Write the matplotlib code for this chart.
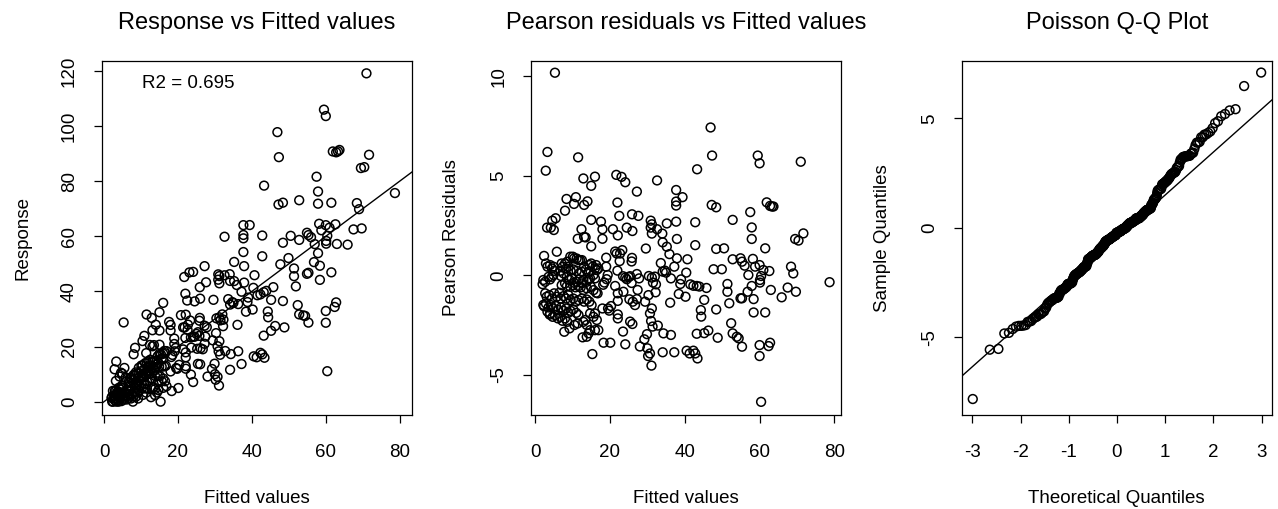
import numpy as np
import matplotlib
matplotlib.use("Agg")
import matplotlib.pyplot as plt
from statistics import NormalDist

plt.rcParams['font.family'] = ['Liberation Sans', 'DejaVu Sans']
plt.rcParams['axes.unicode_minus'] = False

# fitted values and pearson residuals
fitted = [
    5.3, 3.3, 2.85, 11.5, 12.9, 15.0, 16.0, 10.9, 8.4, 10.4,
    14.0, 13.1, 8.0, 5.5, 4.6, 3.2, 4.2, 5.0, 12.4, 11.4,
    13.1, 13.5, 15.0, 15.0, 17.6, 18.0, 18.0,
    19.0, 19.0, 19.4, 18.5, 18.2, 19.1, 18.0, 19.8, 19.5, 20.3,
    18.3, 20.1, 15.3, 20.8, 21.7, 23.1, 24.1, 22.0, 22.5, 22.1,
    24.5, 26.0, 25.9, 27.6, 27.2, 32.6, 29.6, 21.4, 21.8, 22.7,
    23.3, 22.6, 25.9, 25.8, 22.0, 21.4, 23.5, 24.1, 24.5, 25.0,
    25.4, 25.8, 27.2, 27.8, 27.4, 22.1, 22.1, 25.2, 26.1, 26.7,
    27.2, 22.1, 22.1, 25.4, 26.0, 23.5, 24.1, 29.2, 28.0, 30.0,
    30.2, 31.1, 30.7, 29.9, 30.3, 30.7, 31.2, 31.0, 31.4, 32.8,
    31.2, 30.4, 30.9, 31.2, 30.9, 31.2, 32.6, 31.5, 32.0, 32.2,
    33.6, 34.1, 34.7, 35.0, 34.0, 35.2, 34.1, 35.2, 35.9, 36.3,
    36.1, 34.3, 36.3, 34.1, 37.2, 37.7, 37.7, 37.7, 39.4, 37.7,
    37.9, 37.2, 37.9, 38.8, 39.0, 38.4, 40.4, 40.7, 40.2, 40.5,
    41.3, 42.3, 42.8, 43.4, 43.2, 44.3, 44.4, 41.5, 42.3, 43.2,
    43.9, 45.8, 45.2, 45.2, 46.3, 48.8, 48.4, 42.8, 42.8, 43.3,
    46.9, 47.3, 47.2, 48.4, 48.4, 50.5, 47.7, 49.9, 51.4, 51.4,
    51.9, 52.8, 52.8, 52.4, 52.8, 53.9, 54.4, 55.3, 54.9, 55.3,
    54.9, 55.3, 56.0, 57.0, 56.8, 57.9, 58.4, 58.4, 57.5, 57.9,
    57.9, 58.2, 58.8, 59.5, 60.0, 60.0, 60.4, 60.1, 60.1, 61.0,
    61.5, 61.5, 60.0, 60.0, 60.4, 61.9, 62.8, 63.3, 63.7, 62.6,
    63.0, 62.4, 62.8, 65.9, 67.5, 68.4, 69.0, 69.7, 69.5, 70.4,
    71.7, 71.0, 78.7, 23.6, 29.4, 32.3,
    2.4, 5.8, 2.9, 3.3, 4.0, 4.5, 4.9, 5.1, 3.6, 4.0,
    2.7, 2.2, 2.0, 4.5, 4.9, 7.1, 8.0, 8.6, 9.4, 10.1,
    10.4, 11.1, 11.6, 12.0, 12.5, 7.4, 8.3, 8.9, 9.5, 10.2,
    11.1, 11.8, 12.5, 13.1, 13.6, 14.3, 14.5, 15.0, 15.4, 16.0,
    16.5, 16.9, 16.3, 6.7, 7.6, 6.9, 8.5, 9.2, 9.8, 10.4,
    11.1, 11.8, 12.5, 12.9, 13.8, 14.3, 14.7, 15.6, 16.0, 7.1,
    8.0, 8.5, 9.4, 10.1, 10.8, 11.6, 12.2, 12.9, 13.8, 14.9,
    15.6, 16.3, 16.7, 2.7, 3.1, 3.8, 4.5, 5.1, 5.8, 6.5,
    6.9, 7.6, 8.3, 8.9, 9.5, 10.2, 10.9, 11.6, 12.5, 13.1,
    13.8, 14.5, 15.1, 2.2, 2.4, 2.9, 3.6, 4.2, 4.9, 5.6,
    6.2, 6.9, 7.6, 8.3, 8.9, 9.5, 10.2, 11.0, 11.6, 3.3,
    3.9, 4.0, 4.7, 5.3, 6.1, 6.7, 7.3, 8.0, 8.6, 7.8,
    9.2, 10.5, 11.4, 12.9, 13.4, 13.8, 14.7, 14.3, 12.7, 13.8,
    14.7, 16.0, 16.0, 15.6, 16.5, 16.9,
]
pearson = [
    10.18, 6.2, 5.26, 5.93, 4.87, 4.5, 4.96, 3.93, 3.84, 3.59,
    3.72, 3.54, 3.25, 2.87, 2.75, 2.4, 2.4, 2.28, 2.32, 1.84,
    1.93, 1.91, 1.46, 2.79, 2.7, 2.32, 1.84,
    0.89, 0.44, 0.02, -0.36, -0.47, -0.19, -1.66, -1.77, -1.66, -1.54,
    -3.38, -3.38, -3.95, 2.32, 5.05, 4.95, 4.68, 3.66, 2.99, 2.01,
    2.4, 2.23, 3.07, 2.99, 4.21, 4.77, 1.35, 1.2, 1.1, 1.1,
    1.27, 0.72, 0.88, 0.7, 0.24, -0.53, -0.04, -0.11, -0.19, -0.08,
    -0.04, -0.38, 0.07, -0.15, -0.73, -0.9, -1.28, -1.2, -1.32, -1.49,
    -1.19, -1.96, -2.16, -2.32, -2.44, -2.82, -3.46, -3.21, -3.57, -3.66,
    -4.05, -4.53, -3.92, -2.95, -0.99, -1.91, -1.66, -2.29, -2.57, -2.52,
    -0.11, -0.03, 2.75, 2.57, 2.4, 2.1, 2.32, -0.36, -0.06, -0.85,
    0.62, 0.19, 0.24, 0.14, 2.1, 2.61, 1.66, 1.44, 1.07, -0.15,
    -1.37, -2.91, -2.99, -3.86, -3.86, 4.29, 3.71, 3.51, 3.93, 2.7,
    1.83, 0.44, 0.86, -0.43, -0.2, -0.93, 0.14, 0.81, -1.07, -3.78,
    -3.92, -3.78, -3.92, -4.17, -2.93, -1.74, -2.07, -0.45, -0.52, -0.53,
    -0.56, -0.63, -1.23, -2.9, -2.77, -3.13, -1.71, 2.67, 1.52, 5.33,
    7.43, 6.02, 3.54, 3.42, 1.33, 1.36, 0.31, 0.31, -0.43, -0.82,
    -1.4, 2.79, 0.81, -2.4, -2.91, -3.08, -3.16, -3.58, -1.15, -1.15,
    0.86, 0.69, 0.49, 0.02, -0.82, -0.53, -1.19, -1.86, 3.18, 2.41,
    1.83, 0.83, 0.44, 6.02, 5.63, 0.52, -0.03, -0.23, -0.36, 0.27,
    1.36, -1.86, -3.5, -4.05, -6.35, 3.67, 3.49, 3.46, 3.46, 0.22,
    -0.73, -3.55, -3.38, -1.1, -0.61, 0.44, 0.1, -0.82, 1.83, 1.75,
    2.11, 5.71, -0.34, -0.82, -1.32, -0.45,
    0.98, 1.19, 0.60, 0.44, 0.52, 0.35, 0.44, 0.23, -0.07, -0.20,
    -0.32, -0.23, -0.44, -0.07, 0.02, 0.60, 0.60, 0.69, 0.94, 0.94,
    0.85, 0.85, 0.77, 0.77, 0.77, 0.44, 0.35, 0.44, 0.23, 0.30,
    0.23, 0.10, 0.18, 0.44, 0.30, 0.18, 0.52, 0.60, 0.44, 0.35,
    0.27, 0.35, 0.52, 0.23, 0.10, -0.03, -0.07, -0.23, -0.15, -0.37,
    -0.32, -0.20, -0.40, -0.23, -0.32, -0.20, -0.15, 0.02, -0.15, -0.49,
    -0.40, -0.54, -0.57, -0.49, -0.60, -0.54, -0.60, -0.74, -0.65, -0.57,
    -0.74, -0.87, -0.90, -0.90, -1.07, -0.99, -1.16, -0.90, -1.07, -0.87,
    -1.16, -1.04, -1.16, -0.99, -1.24, -1.16, -1.32, -1.24, -1.16, -1.32,
    -1.21, -1.32, -1.49, -1.48, -1.55, -1.41, -1.61, -1.49, -1.66, -1.54,
    -1.74, -1.61, -1.78, -1.66, -1.88, -1.78, -1.71, -1.88, -1.99, -1.82,
    -1.97, -1.91, -2.08, -1.99, -2.16, -2.08, -2.28, -2.16, -2.33, -2.83,
    -2.66, -2.49, -2.41, -2.33, -2.24, -2.49, -2.75, -2.91, -3.11, -3.08,
    -1.91, -1.91, -2.75, -2.08, -2.24, -2.75,
]
r2_text = "R2 = 0.695"

mu = np.array(fitted)
pr = np.array(pearson)
# response recovered from the poisson pearson residual
resp = np.clip(mu + pr * np.sqrt(mu), 0, None)

# deviance residuals for the Q-Q panel
ylogy = np.where(resp > 0, resp * np.log(np.where(resp > 0, resp, 1) / mu), 0.0)
dev = np.sign(resp - mu) * np.sqrt(np.maximum(2 * (ylogy - (resp - mu)), 0))
n = len(dev)
nd = NormalDist()
theo = np.array([nd.inv_cdf((i + 0.5) / n) for i in range(n)])
samp = np.sort(dev)
q1, q3 = np.quantile(dev, [0.25, 0.75])
slope = (q3 - q1) / (nd.inv_cdf(0.75) - nd.inv_cdf(0.25))
intercept = q1 - slope * nd.inv_cdf(0.25)

fig = plt.figure(figsize=(12.78, 5.09), dpi=100)
ax1 = fig.add_axes([0.0796, 0.1847, 0.2430, 0.6955])
ax2 = fig.add_axes([0.4153, 0.1847, 0.2426, 0.6955])
ax3 = fig.add_axes([0.7525, 0.1847, 0.2426, 0.6955])

pt = dict(s=40, facecolors='none', edgecolors='black', linewidths=1.1)

ax1.scatter(mu, resp, **pt)
ax1.axline((0, 0), slope=1, color='black', lw=1.0)
ax1.text(22.9, 115.5, r2_text, ha='center', va='center', fontsize=13.5)
ax1.set_xlim(-0.63, 83.4)
ax1.set_ylim(-4.84, 123.6)
ax1.set_xticks([0, 20, 40, 60, 80])
ax1.set_yticks([0, 20, 40, 60, 80, 100, 120])

ax2.scatter(mu, pr, **pt)
ax2.set_xlim(-1.16, 81.7)
ax2.set_ylim(-7.01, 10.77)
ax2.set_xticks([0, 20, 40, 60, 80])
ax2.set_yticks([-5, 0, 5, 10])

ax3.scatter(theo, samp, **pt)
ax3.axline((0, intercept), slope=slope, color='black', lw=1.0)
ax3.set_xlim(-3.22, 3.21)
ax3.set_ylim(-8.55, 7.62)
ax3.set_xticks([-3, -2, -1, 0, 1, 2, 3])
ax3.set_yticks([-5, 0, 5])

titles = ["Response vs Fitted values", "Pearson residuals vs Fitted values", "Poisson Q-Q Plot"]
xlabs = ["Fitted values", "Fitted values", "Theoretical Quantiles"]
ylabs = ["Response", "Pearson Residuals", "Sample Quantiles"]
for ax, t, xl, yl in zip([ax1, ax2, ax3], titles, xlabs, ylabs):
    ax.set_title(t, fontsize=17, y=1.107, pad=0, va='center')
    ax.set_xlabel(xl, fontsize=13.5)
    ax.set_ylabel(yl, fontsize=13.5)
    ax.xaxis.set_label_coords(0.5, -0.237)
    ax.xaxis.label.set_va('center')
    ax.yaxis.set_label_coords(-0.255, 0.5)
    ax.yaxis.label.set_va('center')
    ax.tick_params(axis='both', direction='out', length=6, width=0.9, labelsize=13.5)
    ax.tick_params(axis='x', pad=15)
    ax.tick_params(axis='y', pad=11)
    plt.setp(ax.get_yticklabels(), rotation=90, va='center')
    for sp in ax.spines.values():
        sp.set_linewidth(0.9)

fig.savefig("out.png", dpi=100)
